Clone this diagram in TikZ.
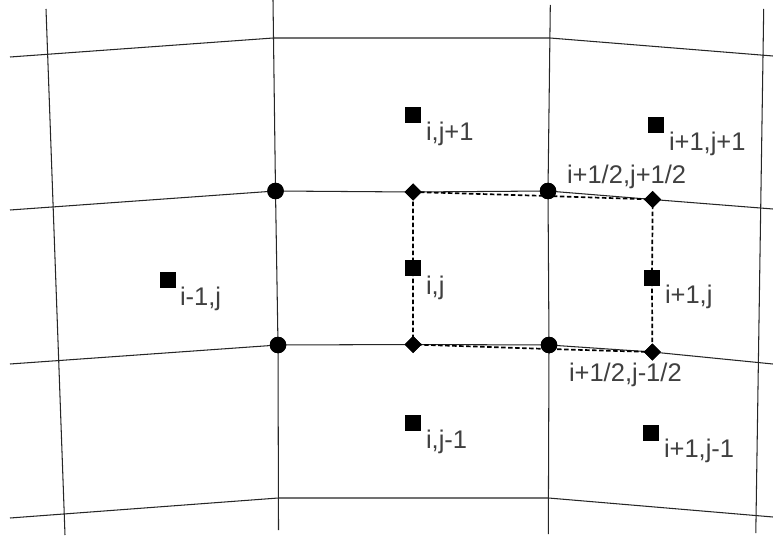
\documentclass[tikz,border=0pt]{standalone}
\usepackage{fontspec}
\setmainfont{Liberation Sans}
\usetikzlibrary{shapes.geometric}
\definecolor{lab}{HTML}{404040}
\tikzset{
  gridline/.style={draw=black!85,line width=1.05pt},
  flux/.style={draw=black,line width=1.7pt,dash pattern=on 4.5pt off 2.5pt},
  cellpt/.style={rectangle,fill=black,minimum size=16pt,inner sep=0pt,outer sep=0pt},
  vertexpt/.style={circle,fill=black,minimum size=16.5pt,inner sep=0pt,outer sep=0pt},
  facept/.style={diamond,aspect=1,fill=black,minimum size=17pt,inner sep=0pt,outer sep=0pt},
  lbl/.style={anchor=base west,inner sep=0pt,outer sep=0pt,text=lab,font=\fontsize{25.5pt}{28pt}\selectfont}
}
\begin{document}
\begin{tikzpicture}[x=1pt,y=-1pt]
\useasboundingbox[fill=white] (0,0) rectangle (773,540);
% grid end points
\coordinate (v1a) at (46,9);   \coordinate (v1b) at (65,535);
\coordinate (v2a) at (273,0);  \coordinate (v2b) at (278.5,530);
\coordinate (v3a) at (550.3,5);\coordinate (v3b) at (548.3,534);
\coordinate (v4a) at (763.7,9);\coordinate (v4b) at (755.8,533);
\coordinate (h1a) at (10,57);  \coordinate (h1b) at (273.3,38); \coordinate (h1c) at (550,38);  \coordinate (h1d) at (773,56);
\coordinate (h2a) at (10,210); \coordinate (h2d) at (773,209);
\coordinate (h3a) at (10,364); \coordinate (h3d) at (773,364);
\coordinate (h4a) at (10,518); \coordinate (h4b) at (278.3,498); \coordinate (h4c) at (548.5,498); \coordinate (h4d) at (773,517);
% markers
\node[vertexpt] (c1) at (275.5,191) {};
\node[vertexpt] (c2) at (548,191) {};
\node[vertexpt] (c3) at (278,345) {};
\node[vertexpt] (c4) at (549,345) {};
\node[facept] (d1) at (413,192) {};
\node[facept] (d2) at (652.7,199.5) {};
\node[facept] (d3) at (413,344.5) {};
\node[facept] (d4) at (652.3,352) {};
\node[cellpt] (s1) at (413,268) {};
\node[cellpt] (s2) at (652,278) {};
\node[cellpt] (s3) at (413,115) {};
\node[cellpt] (s4) at (656,125) {};
\node[cellpt] (s5) at (168,280) {};
\node[cellpt] (s6) at (413,423) {};
\node[cellpt] (s7) at (651,433) {};
% grid
\draw[gridline] (v1a) -- (v1b);
\draw[gridline] (v2a) -- (c1.center) -- (c3.center) -- (v2b);
\draw[gridline] (v3a) -- (c2.center) -- (c4.center) -- (v3b);
\draw[gridline] (v4a) -- (v4b);
\draw[gridline] (h1a) -- (h1b) -- (h1c) -- (h1d);
\draw[gridline] (h2a) -- (c1.center) -- (d1.center) -- (c2.center) -- (d2.center) -- (h2d);
\draw[gridline] (h3a) -- (c3.center) -- (d3.center) -- (c4.center) -- (d4.center) -- (h3d);
\draw[gridline] (h4a) -- (h4b) -- (h4c) -- (h4d);
% control volume
\draw[flux] (d1.center) -- ([yshift=-5pt]c2.center) -- (d2.center) -- (s2.center) -- (d4.center) -- ([yshift=-4pt]c4.center) -- (d3.center) -- (s1.center) -- (d1.center);
% repaint markers over the lines
\node[vertexpt] at (c1) {};
\node[vertexpt] at (c2) {};
\node[vertexpt] at (c3) {};
\node[vertexpt] at (c4) {};
\node[facept] at (d1) {};
\node[facept] at (d2) {};
\node[facept] at (d3) {};
\node[facept] at (d4) {};
\node[cellpt] at (s1) {};
\node[cellpt] at (s2) {};
% labels
\node[lbl] (t1) at (567,183) {i+1/2,j+1/2};
\node[lbl] (t2) at (569,381) {i+1/2,j-1/2};
\node[lbl] (t3) at (426,141) {i,j+1};
\node[lbl] (t4) at (669,151) {i+1,j+1};
\node[lbl] (t5) at (426,294) {i,j};
\node[lbl] (t6) at (665,303) {i+1,j};
\node[lbl] (t7) at (180,305) {i-1,j};
\node[lbl] (t8) at (426,448) {i,j-1};
\node[lbl] (t9) at (664,457) {i+1,j-1};
\end{tikzpicture}
\end{document}
